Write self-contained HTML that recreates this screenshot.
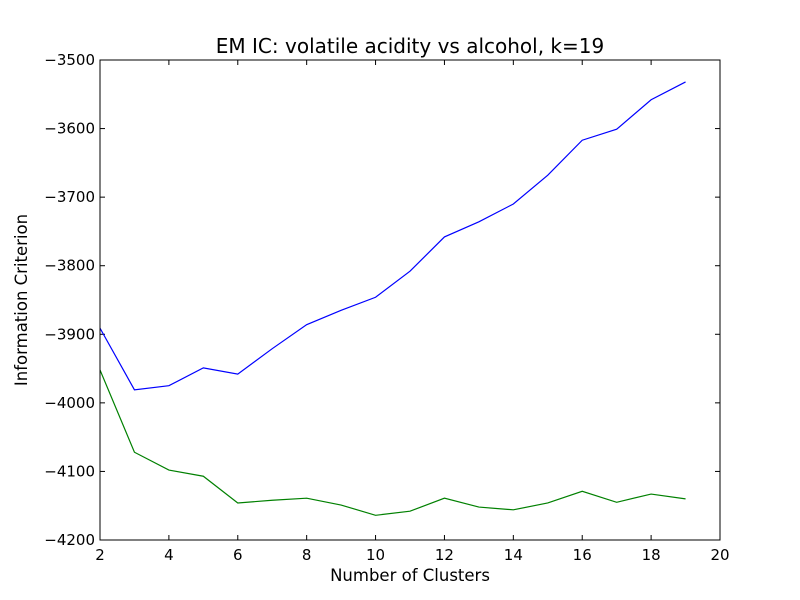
<!DOCTYPE html>
<html><head><meta charset="utf-8">
<style>
html,body{margin:0;padding:0;background:#fff;}
svg{display:block;font-family:"DejaVu Sans","Liberation Sans",sans-serif;}
</style></head>
<body>
<svg id="chart" width="800" height="600" xmlns="http://www.w3.org/2000/svg">
<rect width="800" height="600" fill="#fff"/>
<text x="410" y="53" font-size="20" text-anchor="middle">EM IC: volatile acidity vs alcohol, k=19</text>
<text x="410" y="581" font-size="16.5" text-anchor="middle">Number of Clusters</text>
<text x="27" y="300" font-size="16.5" text-anchor="middle" transform="rotate(-90 27 300)">Information Criterion</text>
<g id="ticks"></g>
<g id="series"></g>
<rect x="100" y="60" width="620" height="480" fill="none" stroke="#000" stroke-width="1"/>
</svg>
<script>
const clusters = [2,3,4,5,6,7,8,9,10,11,12,13,14,15,16,17,18,19];
const blueValues = [-3891,-3981,-3975,-3949,-3958,-3921,-3886,-3865,-3846,-3808,-3758,-3736,-3710,-3668,-3617,-3601,-3558,-3532];
const greenValues = [-3952,-4072,-4098,-4107,-4146,-4142,-4139,-4149,-4164,-4158,-4139,-4152,-4156,-4146,-4129,-4145,-4133,-4140];
const xTicks = [2,4,6,8,10,12,14,16,18,20];
const yTicks = [-4200,-4100,-4000,-3900,-3800,-3700,-3600,-3500];

const X0=100,X1=720,Y0=60,Y1=540,XMIN=2,XMAX=20,YMIN=-4200,YMAX=-3500;
function sx(v){return X0+(v-XMIN)/(XMAX-XMIN)*(X1-X0);}
function sy(v){return Y1-(v-YMIN)/(YMAX-YMIN)*(Y1-Y0);}
const NS="http://www.w3.org/2000/svg";
const tg=document.getElementById('ticks');
function mk(tag,attrs,parent){const e=document.createElementNS(NS,tag);for(const k in attrs)e.setAttribute(k,attrs[k]);parent.appendChild(e);return e;}
xTicks.forEach(t=>{
  const x=sx(t);
  const a=mk('line',{x1:x,x2:x,y1:Y1,y2:Y1-5,stroke:'#000'},tg);
  
  
  const b=mk('line',{x1:x,x2:x,y1:Y0,y2:Y0+5,stroke:'#000'},tg);
  
  
  const l=mk('text',{x:x,y:Y1+20,'font-size':15,'text-anchor':'middle'},tg);
  l.textContent=t;
  
  
});
yTicks.forEach(t=>{
  const y=sy(t);
  const a=mk('line',{x1:X0,x2:X0+5,y1:y,y2:y,stroke:'#000'},tg);
  
  
  const b=mk('line',{x1:X1,x2:X1-5,y1:y,y2:y,stroke:'#000'},tg);
  
  
  const l=mk('text',{x:X0-5,y:y+5,'font-size':15,'text-anchor':'end'},tg);
  l.textContent='\u2212'+Math.abs(t);
  
  
});
const sg=document.getElementById('series');
function line(vals,color,name){
  const pts=clusters.map((c,i)=>sx(c)+','+sy(vals[i])).join(' ');
  const p=mk('polyline',{points:pts,fill:'none',stroke:color,'stroke-width':1.2},sg);
  
  
}
line(blueValues,'#0000ff','blue-series-line');
line(greenValues,'#008000','green-series-line');
</script>
</body></html>
